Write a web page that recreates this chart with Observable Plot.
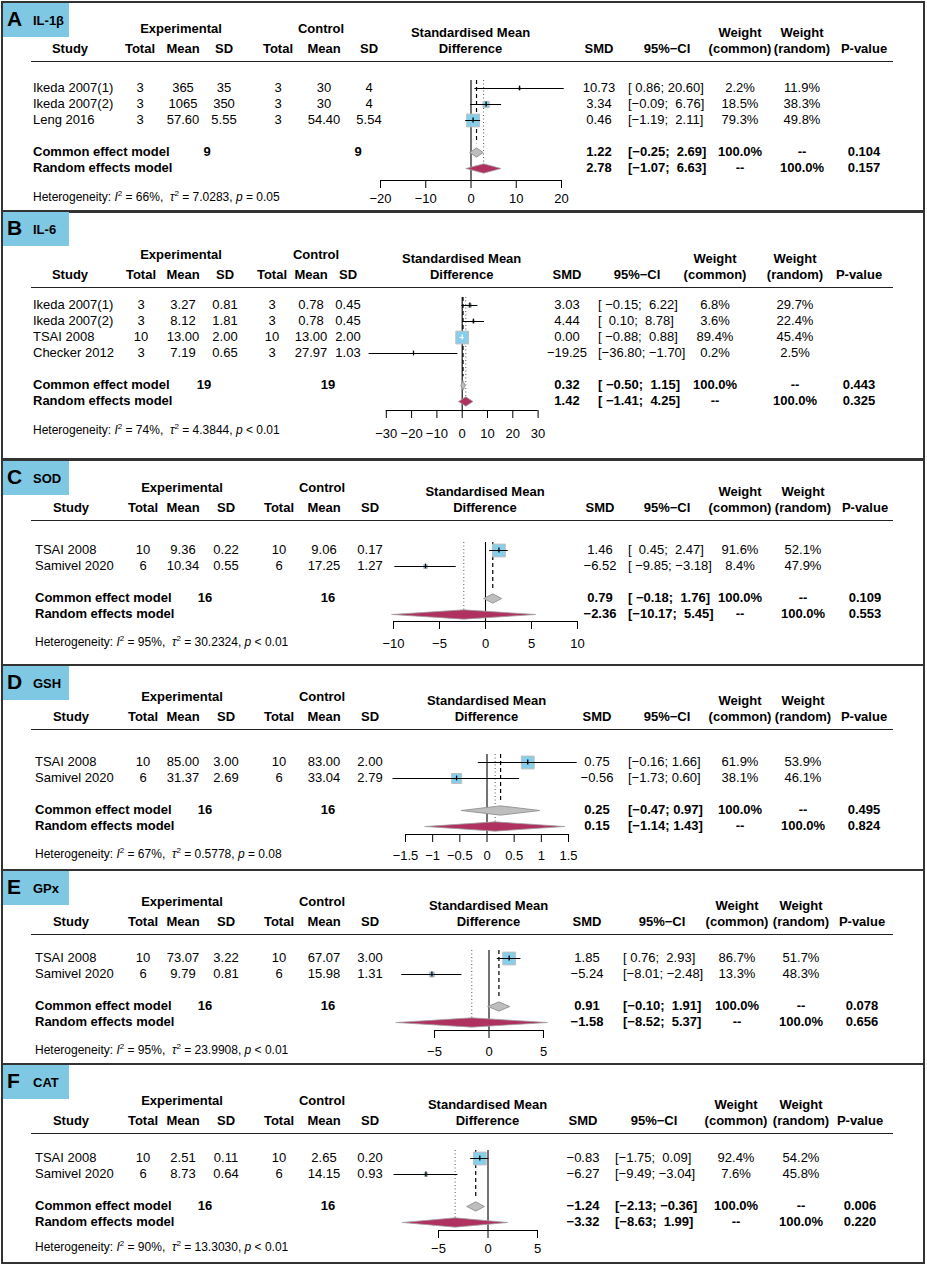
<!DOCTYPE html>
<html><head><meta charset="utf-8">
<script src="https://cdn.jsdelivr.net/npm/d3@7"></script>
<script src="https://cdn.jsdelivr.net/npm/@observablehq/plot@0.6"></script>
<style>
body{margin:0;background:#fff;}
#root{position:relative;width:927px;height:1266px;font-family:"Liberation Sans",Arial,Helvetica,sans-serif;font-size:13px;color:#000;overflow:hidden;background:#fff}
.box{position:absolute;border:2px solid #333;box-sizing:border-box}
.t{position:absolute;white-space:pre;line-height:16px;height:16px}
.tab{position:absolute;background:#7ec8e3}
.hl{position:absolute;height:0;border-top:1px solid #222}
svg.fp{position:absolute;left:0}
</style></head><body><div id="root"></div>
<script>
// ---------------- data ----------------
const panelLetter = ["A","B","C","D","E","F"];
const outcome = ["IL-1β","IL-6","SOD","GSH","GPx","CAT"];
const studies = [
  ["Ikeda 2007(1)","Ikeda 2007(2)","Leng 2016"],
  ["Ikeda 2007(1)","Ikeda 2007(2)","TSAI 2008","Checker 2012"],
  ["TSAI 2008","Samivel 2020"],
  ["TSAI 2008","Samivel 2020"],
  ["TSAI 2008","Samivel 2020"],
  ["TSAI 2008","Samivel 2020"]
];
const expTotal  = [[3,3,3],[3,3,10,3],[10,6],[10,6],[10,6],[10,6]];
const expMean   = [["365","1065","57.60"],["3.27","8.12","13.00","7.19"],["9.36","10.34"],["85.00","31.37"],["73.07","9.79"],["2.51","8.73"]];
const expSD     = [["35","350","5.55"],["0.81","1.81","2.00","0.65"],["0.22","0.55"],["3.00","2.69"],["3.22","0.81"],["0.11","0.64"]];
const ctrlTotal = [[3,3,3],[3,3,10,3],[10,6],[10,6],[10,6],[10,6]];
const ctrlMean  = [["30","30","54.40"],["0.78","0.78","13.00","27.97"],["9.06","17.25"],["83.00","33.04"],["67.07","15.98"],["2.65","14.15"]];
const ctrlSD    = [["4","4","5.54"],["0.45","0.45","2.00","1.03"],["0.17","1.27"],["2.00","2.79"],["3.00","1.31"],["0.20","0.93"]];
const smd       = [[10.73,3.34,0.46],[3.03,4.44,0.00,-19.25],[1.46,-6.52],[0.75,-0.56],[1.85,-5.24],[-0.83,-6.27]];
const ciLow     = [[0.86,-0.09,-1.19],[-0.15,0.10,-0.88,-36.80],[0.45,-9.85],[-0.16,-1.73],[0.76,-8.01],[-1.75,-9.49]];
const ciHigh    = [[20.60,6.76,2.11],[6.22,8.78,0.88,-1.70],[2.47,-3.18],[1.66,0.60],[2.93,-2.48],[0.09,-3.04]];
const weightCommon = [[2.2,18.5,79.3],[6.8,3.6,89.4,0.2],[91.6,8.4],[61.9,38.1],[86.7,13.3],[92.4,7.6]];
const weightRandom = [[11.9,38.3,49.8],[29.7,22.4,45.4,2.5],[52.1,47.9],[53.9,46.1],[51.7,48.3],[54.2,45.8]];
const totalExp  = [9,19,16,16,16,16];
const totalCtrl = [9,19,16,16,16,16];
const commonSMD  = [1.22,0.32,0.79,0.25,0.91,-1.24];
const commonLow  = [-0.25,-0.50,-0.18,-0.47,-0.10,-2.13];
const commonHigh = [2.69,1.15,1.76,0.97,1.91,-0.36];
const commonP    = ["0.104","0.443","0.109","0.495","0.078","0.006"];
const randomSMD  = [2.78,1.42,-2.36,0.15,-1.58,-3.32];
const randomLow  = [-1.07,-1.41,-10.17,-1.14,-8.52,-8.63];
const randomHigh = [6.63,4.25,5.45,1.43,5.37,1.99];
const randomP    = ["0.157","0.325","0.553","0.824","0.656","0.220"];
const hetI2   = ["66%","74%","95%","67%","95%","90%"];
const hetTau2 = ["7.0283","4.3844","30.2324","0.5778","23.9908","13.3030"];
const hetP    = ["= 0.05","< 0.01","< 0.01","= 0.08","< 0.01","< 0.01"];
const axisTicks = [[-20,-10,0,10,20],[-30,-20,-10,0,10,20,30],[-10,-5,0,5,10],[-1.5,-1,-0.5,0,0.5,1,1.5],[-5,0,5],[-5,0,5]];

// ---------------- layout (pixels) ----------------
const leftC = {study:35, eT:143, eM:183, eS:226, cT:279, cM:324, cS:370, exp:182, ctrl:322, studyHdr:71, tot1:205, tot2:328};
const layout = [
 Object.assign({}, leftC, {top:2, bottom:212, H:49, L:88, axisY:180, tickPad:5, hetY:194, x0:380, x1:561,
   study:33, eT:140, eM:183, eS:224, cT:278, cM:324, cS:369, exp:181, ctrl:321, studyHdr:70, tot1:207, tot2:358,
   smdC:599, ciL:628, wc:740, wr:802, pv:864}),
 Object.assign({}, leftC, {top:211, bottom:459, H:275, L:305, axisY:410, tickPad:10, hetY:427, x0:385.8, x1:537.6,
   study:33, eT:141, eM:183, eS:225, cT:272, cM:311, cS:348, exp:181, ctrl:316, studyHdr:70, tot1:204, tot2:328,
   smdC:567, ciL:598, wc:715, wr:795, pv:859}),
 Object.assign({}, leftC, {top:460, bottom:665, H:508, L:550, axisY:621, tickPad:9, hetY:639, x0:393, x1:577,
   smdC:600, ciL:628, wc:740, wr:803, pv:865}),
 Object.assign({}, leftC, {top:665, bottom:870, H:717, L:762, axisY:834, tickPad:8, hetY:851, x0:405, x1:568,
   smdC:597, ciL:628, wc:740, wr:803, pv:864}),
 Object.assign({}, leftC, {top:870, bottom:1064, H:922, L:958, axisY:1030, tickPad:8, hetY:1047, x0:434, x1:543,
   smdC:587, ciL:623, wc:737, wr:801, pv:862}),
 Object.assign({}, leftC, {top:1064, bottom:1263, H:1121, L:1158, axisY:1230, tickPad:5, hetY:1244, x0:438, x1:537,
   smdC:583, ciL:615, wc:736, wr:801, pv:860})
];
const STEP = 16, W = 927;

// ---------------- helpers ----------------
const root = document.getElementById("root");
function txt(s, x, y, o = {}) {
  const el = document.createElement("div");
  el.className = "t";
  if (o.html) el.innerHTML = s; else el.textContent = s;
  el.style.left = x + "px";
  el.style.top = (y - 8) + "px";
  el.style.fontSize = (o.size || 13) + "px";
  if (o.bold) el.style.fontWeight = "bold";
  const a = o.align || "center";
  if (a === "center") el.style.transform = "translateX(-50%)";
  else if (a === "right") el.style.transform = "translateX(-100%)";
  root.appendChild(el);
}
function div(cls, css) {
  const el = document.createElement("div");
  el.className = cls;
  Object.assign(el.style, css);
  root.appendChild(el);
  return el;
}
const f2 = d3.format(".2f");
const f1 = d3.format(".1f");
const pad = (s, n) => " ".repeat(Math.max(0, n - s.length)) + s;

// ---------------- panels ----------------
layout.forEach((lay, i) => {
  const n = studies[i].length;
  div("box", {left: "1px", top: (lay.top - 1) + "px", width: "924px", height: (lay.bottom - lay.top + 2) + "px"});
  div("tab", {left: "3px", top: (lay.top + 1) + "px", width: "66px", height: "34px"});
  txt(panelLetter[i], 7, lay.top + 17, {align: "left", bold: true, size: 21});
  txt(outcome[i], 33, lay.top + 19, {align: "left", bold: true, size: 13});

  // headers
  const H = lay.H;
  txt("Experimental", lay.exp, H - 20, {bold: true});
  txt("Control", lay.ctrl, H - 20, {bold: true});
  txt("Standardised Mean", (lay.x0 + lay.x1) / 2, H - 16, {bold: true});
  txt("Difference", (lay.x0 + lay.x1) / 2, H, {bold: true});
  txt("Weight", lay.wc, H - 16, {bold: true});
  txt("Weight", lay.wr, H - 16, {bold: true});
  txt("Study", lay.studyHdr, H, {bold: true});
  txt("Total", lay.eT, H, {bold: true});
  txt("Mean", lay.eM, H, {bold: true});
  txt("SD", lay.eS, H, {bold: true});
  txt("Total", lay.cT, H, {bold: true});
  txt("Mean", lay.cM, H, {bold: true});
  txt("SD", lay.cS, H, {bold: true});
  txt("SMD", lay.smdC, H, {bold: true});
  txt("95%−CI", lay.ciL + 39, H, {bold: true});
  txt("(common)", lay.wc, H, {bold: true});
  txt("(random)", lay.wr, H, {bold: true});
  txt("P-value", lay.pv, H, {bold: true});
  div("hl", {left: "31px", top: (H + 12) + "px", width: "862px"});

  // CI strings padded like meta
  const lows = ciLow[i].concat([commonLow[i], randomLow[i]]).map(f2);
  const highs = ciHigh[i].concat([commonHigh[i], randomHigh[i]]).map(f2);
  const lw = d3.max(lows, s => s.length), hw = d3.max(highs, s => s.length);
  const ci = lows.map((l, k) => "[" + pad(l, lw) + "; " + pad(highs[k], hw) + "]");

  // study rows
  studies[i].forEach((s, j) => {
    const y = lay.L + j * STEP;
    txt(s, lay.study, y, {align: "left"});
    txt(String(expTotal[i][j]), lay.eT, y);
    txt(expMean[i][j], lay.eM, y);
    txt(expSD[i][j], lay.eS, y);
    txt(String(ctrlTotal[i][j]), lay.cT, y);
    txt(ctrlMean[i][j], lay.cM, y);
    txt(ctrlSD[i][j], lay.cS, y);
    txt(f2(smd[i][j]), lay.smdC, y);
    txt(ci[j], lay.ciL, y, {align: "left"});
    txt(f1(weightCommon[i][j]) + "%", lay.wc, y);
    txt(f1(weightRandom[i][j]) + "%", lay.wr, y);
  });
  const yc = lay.L + (n + 1) * STEP, yr = lay.L + (n + 2) * STEP;
  txt("Common effect model", lay.study, yc, {align: "left", bold: true});
  txt(String(totalExp[i]), lay.tot1, yc, {bold: true});
  txt(String(totalCtrl[i]), lay.tot2, yc, {bold: true});
  txt(f2(commonSMD[i]), lay.smdC, yc, {bold: true});
  txt(ci[n], lay.ciL, yc, {align: "left", bold: true});
  txt("100.0%", lay.wc, yc, {bold: true});
  txt("--", lay.wr, yc, {bold: true});
  txt(commonP[i], lay.pv, yc, {bold: true});
  txt("Random effects model", lay.study, yr, {align: "left", bold: true});
  txt(f2(randomSMD[i]), lay.smdC, yr, {bold: true});
  txt(ci[n + 1], lay.ciL, yr, {align: "left", bold: true});
  txt("--", lay.wc, yr, {bold: true});
  txt("100.0%", lay.wr, yr, {bold: true});
  txt(randomP[i], lay.pv, yr, {bold: true});
  txt("Heterogeneity: <i>I</i><sup style='font-size:8px'>2</sup> = " + hetI2[i] + ",  <i>τ</i><sup style='font-size:8px'>2</sup> = " + hetTau2[i] + ", <i>p</i> " + hetP[i],
      lay.study, lay.hetY, {align: "left", size: 12, html: true});

  // ------------- forest plot via Plot -------------
  const ticks = axisTicks[i];
  const tmin = d3.min(ticks), tmax = d3.max(ticks);
  const ph = lay.bottom - lay.top;
  const commonIdx = n + 1, randomIdx = n + 2;
  const axisIdx = (lay.axisY - lay.L) / STEP;
  const pxPerUnit = (lay.x1 - lay.x0) / (tmax - tmin);
  const wmax = d3.max(weightCommon[i]);
  const rows = studies[i].map((s, j) => {
    const side = 12.8 * Math.sqrt(weightCommon[i][j] / wmax);
    return {idx: j, est: smd[i][j], lo: ciLow[i][j], hi: ciHigh[i][j], w: weightCommon[i][j],
            inside: (ciHigh[i][j] - ciLow[i][j]) * pxPerUnit < side};
  });
  const h = 0.29;
  const diamond = (est, lo, hi, idx) => [[lo, idx], [est, idx - h], [hi, idx], [est, idx + h], [lo, idx]].map(([x, y]) => ({x, y}));
  const dCommon = diamond(commonSMD[i], commonLow[i], commonHigh[i], commonIdx);
  const dRandom = diamond(randomSMD[i], randomLow[i], randomHigh[i], randomIdx);
  const vlines = [{x: 0, y1: -0.5, y2: axisIdx}];
  const dashed = [{x: commonSMD[i], y1: -0.5, y2: commonIdx - 0.55}];
  const dotted = [{x: randomSMD[i], y1: -0.5, y2: randomIdx}];
  const axisLine = [{y: axisIdx, x1: tmin, x2: tmax}];
  const outsideRows = rows.filter(d => !d.inside), insideRows = rows.filter(d => d.inside);

  const svg = Plot.plot({
    width: W, height: ph,
    marginLeft: lay.x0, marginRight: W - lay.x1, marginTop: 0, marginBottom: ph - (lay.axisY - lay.top),
    style: {background: "transparent", fontFamily: '"Liberation Sans", Arial, Helvetica, sans-serif', fontSize: "13px", overflow: "visible"},
    x: {domain: [tmin, tmax]},
    y: {domain: [0, randomIdx], range: [lay.L - lay.top, lay.L - lay.top + randomIdx * STEP], axis: null},
    r: {domain: [0, wmax], range: [0, 12.8 / Math.sqrt(Math.PI)]},
    marks: [
      Plot.ruleX(dotted, {x: "x", y1: "y1", y2: "y2", stroke: "#555", strokeWidth: 1, strokeDasharray: "1,2.5"}),
      Plot.ruleX(dashed, {x: "x", y1: "y1", y2: "y2", stroke: "#000", strokeWidth: 1.2, strokeDasharray: "4,3"}),
      Plot.ruleX(vlines, {x: "x", y1: "y1", y2: "y2", stroke: "#000", strokeWidth: 1.1}),
      Plot.dot(rows, {x: "est", y: "idx", r: "w", symbol: "square", fill: "#87ceeb", stroke: "#bebebe", strokeWidth: 1}),
      Plot.ruleY(outsideRows, {y: "idx", x1: "lo", x2: "hi", stroke: "#000", strokeWidth: 1}),
      Plot.ruleY(insideRows, {y: "idx", x1: "lo", x2: "hi", stroke: "#fff", strokeWidth: 1}),
      Plot.ruleX(outsideRows, {x: "est", y1: d => d.idx - 0.15, y2: d => d.idx + 0.15, stroke: "#000", strokeWidth: 1.3}),
      Plot.ruleX(insideRows, {x: "est", y1: d => d.idx - 0.15, y2: d => d.idx + 0.15, stroke: "#fff", strokeWidth: 1.3}),
      Plot.line(dCommon, {x: "x", y: "y", fill: "#bebebe", stroke: "#999", strokeWidth: 1}),
      Plot.line(dRandom, {x: "x", y: "y", fill: "#b03060", stroke: "#a0a0a0", strokeWidth: 0.8}),
      Plot.ruleY(axisLine, {y: "y", x1: "x1", x2: "x2", stroke: "#000", strokeWidth: 1.1}),
      Plot.axisX({ticks: ticks, tickSize: 8, tickPadding: lay.tickPad, tickFormat: d3.format("~g"), label: null, stroke: "#000"})
    ]
  });
  svg.classList.add("fp");
  svg.style.top = lay.top + "px";
  root.appendChild(svg);
});
</script></body></html>
